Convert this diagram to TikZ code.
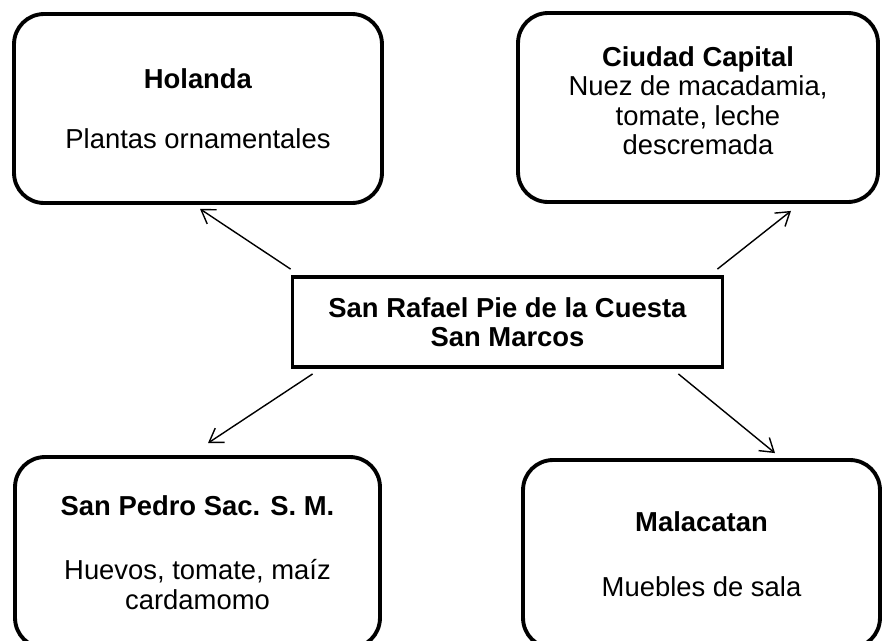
\documentclass[tikz,border=0pt]{standalone}
\usepackage{fontspec}
\setmainfont{Liberation Sans}
\usetikzlibrary{arrows.meta, positioning, calc}

\begin{document}
\begin{tikzpicture}[
    x=0.02cm, y=-0.02cm,
    font=\fontsize{15.6}{16.8}\selectfont,
    place/.style={draw, line width=2.2pt, rounded corners=0.6cm, align=center, inner sep=0pt},
    hub/.style={draw, line width=2.2pt, align=center, inner sep=0pt, minimum width=8.6cm, minimum height=1.8cm},
    arrow/.style={-{Straight Barb[length=2.6mm, width=3.4mm]}, line width=0.8pt}
]
    \path[use as bounding box, clip] (0,0) rectangle (883,640);

    % Origin
    \node[hub] (hub) at (507.5,322) {\textbf{San Rafael Pie de la Cuesta}\\\textbf{San Marcos}};

    % Destinations
    \node[place, minimum width=7.36cm, minimum height=3.78cm] (holanda) at (198,108.5) {\textbf{Holanda}\\[17.5pt]Plantas ornamentales};
    \node[place, minimum width=7.2cm, minimum height=3.78cm] (ciudad) at (698,107.5) {\textbf{Ciudad Capital}\\Nuez de macadamia,\\tomate, leche\\descremada\\[-9pt]};
    \node[place, minimum width=7.3cm, minimum height=3.82cm] (sanpedro) at (197.5,552.5) {\textbf{San Pedro Sac. S. M.}\\[20pt]Huevos, tomate, maíz\\cardamomo};
    \node[place, minimum width=7.14cm, minimum height=3.76cm] (malacatan) at (701.5,554) {\textbf{Malacatan}\\[20pt]Muebles de sala};

    % Connections (outward flow)
    \draw[arrow] ($(hub.north west)+(0,-6)$) -- ($(holanda.south)+(2,4)$);
    \draw[arrow] ($(hub.north east)+(-7,-6)$) -- ($(ciudad.south)+(93,7)$);
    \draw[arrow] ($(hub.south west)+(22,5)$) -- ($(sanpedro.north)+(10.5,-12)$);
    \draw[arrow] ($(hub.south east)+(-46,5)$) -- ($(malacatan.north)+(73.5,-5)$);

\end{tikzpicture}
\end{document}
